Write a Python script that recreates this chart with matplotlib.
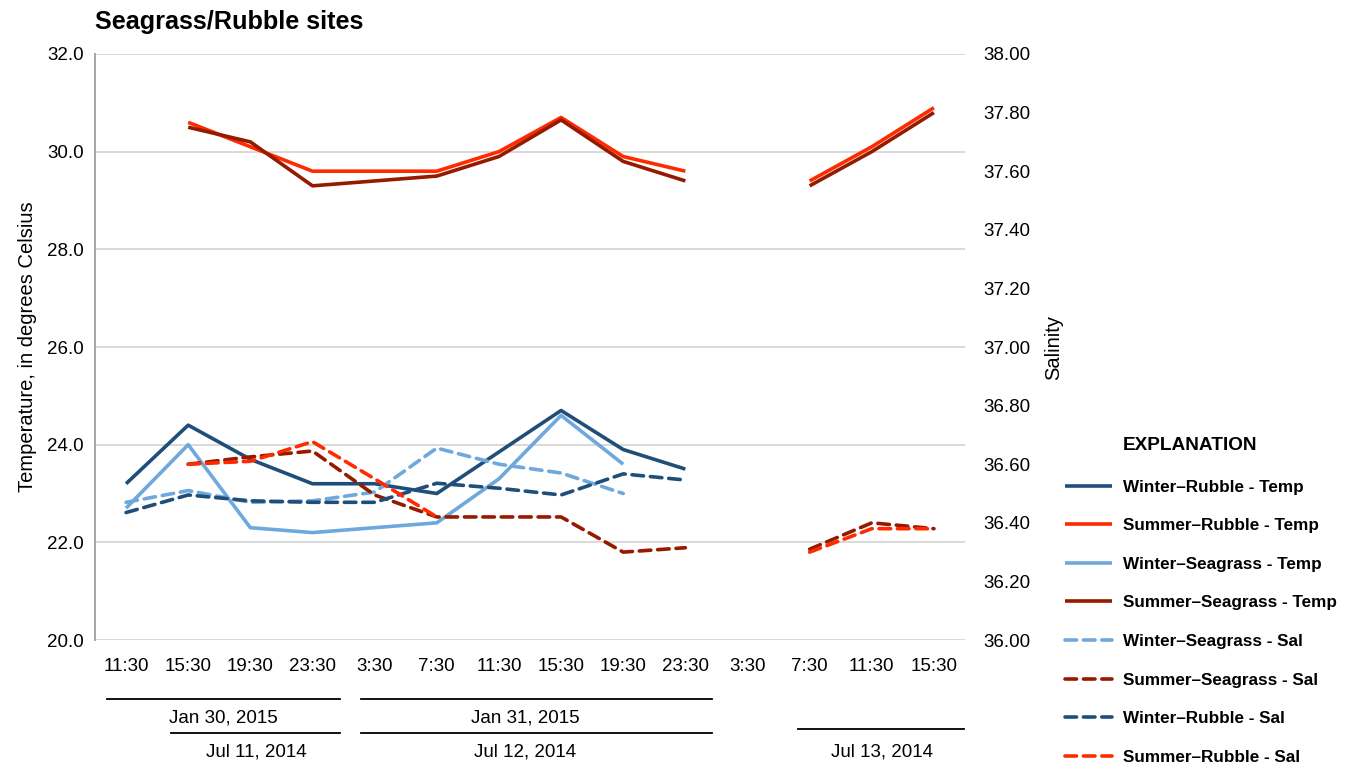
import matplotlib
matplotlib.use("Agg")
import matplotlib.pyplot as plt
import matplotlib.transforms as mtransforms
import numpy as np

plt.rcParams["font.family"] = ["Liberation Sans Narrow", "Liberation Sans", "DejaVu Sans"]

nan = np.nan

# Sampling times (two overlapping field campaigns share the hourly slots)
times = ["11:30", "15:30", "19:30", "23:30", "3:30", "7:30", "11:30",
         "15:30", "19:30", "23:30", "3:30", "7:30", "11:30", "15:30"]

# Temperature, degrees Celsius
winter_rubble_temp = [23.2, 24.4, 23.7, 23.2, 23.2, 23.0, 23.85, 24.7, 23.9, 23.5,
                      nan, nan, nan, nan]
summer_rubble_temp = [nan, 30.6, 30.1, 29.6, 29.6, 29.6, 30.0, 30.7, 29.9, 29.6,
                      nan, 29.4, 30.1, 30.9]
winter_seagrass_temp = [22.7, 24.0, 22.3, 22.2, 22.3, 22.4, 23.3, 24.6, 23.6, nan,
                        nan, nan, nan, nan]
summer_seagrass_temp = [nan, 30.5, 30.2, 29.3, 29.4, 29.5, 29.9, 30.65, 29.8, 29.4,
                        nan, 29.3, 30.0, 30.8]

# Salinity
winter_seagrass_sal = [36.47, 36.51, 36.47, 36.475, 36.505, 36.655, 36.60, 36.57,
                       36.50, nan, nan, nan, nan, nan]
summer_seagrass_sal = [nan, 36.60, 36.625, 36.645, 36.495, 36.42, 36.42, 36.42,
                       36.30, 36.315, nan, 36.31, 36.40, 36.38]
winter_rubble_sal = [36.435, 36.495, 36.475, 36.47, 36.47, 36.535, 36.518, 36.495,
                     36.567, 36.546, nan, nan, nan, nan]
summer_rubble_sal = [nan, 36.60, 36.61, 36.677, 36.55, 36.42, nan, nan,
                     nan, nan, nan, 36.30, 36.38, 36.38]

# Day brackets under the time axis: label, bracket start/end and label centre
# (in slot units)
winter_days = [("Jan 30, 2015", -0.30, 3.44, 1.56), ("Jan 31, 2015", 3.78, 9.43, 6.42)]
summer_days = [("Jul 11, 2014", 0.72, 3.44, 2.10), ("Jul 12, 2014", 3.78, 9.43, 6.42),
               ("Jul 13, 2014", 10.81, 13.49, 12.17)]

DARK_BLUE = "#1f4e79"
LIGHT_BLUE = "#6fa8dc"
RED = "#ff2a00"
DARK_RED = "#951a00"
TICK_SIZE = 13.5

fig = plt.figure(figsize=(13.51, 7.70), dpi=100)
ax = fig.add_axes([0.0703, 0.1688, 0.6440, 0.7611])
ax2 = ax.twinx()

x = np.arange(len(times))
lw = 2.6
dash = (3.2, 1.9)

temp_series = [
    (winter_rubble_temp, DARK_BLUE, "Winter\u2013Rubble - Temp"),
    (summer_rubble_temp, RED, "Summer\u2013Rubble - Temp"),
    (winter_seagrass_temp, LIGHT_BLUE, "Winter\u2013Seagrass - Temp"),
    (summer_seagrass_temp, DARK_RED, "Summer\u2013Seagrass - Temp"),
]
sal_series = [
    (winter_seagrass_sal, LIGHT_BLUE, "Winter\u2013Seagrass - Sal"),
    (summer_seagrass_sal, DARK_RED, "Summer\u2013Seagrass - Sal"),
    (winter_rubble_sal, DARK_BLUE, "Winter\u2013Rubble - Sal"),
    (summer_rubble_sal, RED, "Summer\u2013Rubble - Sal"),
]

handles = []
for values, color, label in temp_series:
    (h,) = ax.plot(x, values, color=color, lw=lw, label=label, solid_capstyle="butt")
    handles.append(h)
for values, color, label in sal_series:
    (h,) = ax2.plot(x, values, color=color, lw=lw, label=label,
                    linestyle=(0, dash), dash_capstyle="round")
    handles.append(h)

ax.set_xlim(-0.5, len(times) - 0.5)
ax.set_ylim(20, 32)
ax.set_yticks(np.arange(20, 32.1, 2))
ax.set_yticklabels([f"{v:.1f}" for v in np.arange(20, 32.1, 2)])
ax2.set_ylim(36, 38)
ax2.set_yticks(np.arange(36, 38.01, 0.2))
ax2.set_yticklabels([f"{v:.2f}" for v in np.arange(36, 38.01, 0.2)])
ax.set_xticks(x)
ax.set_xticklabels(times)

ax.grid(axis="y", color="#d9d9d9", lw=1.4)
ax.set_axisbelow(True)
for a in (ax, ax2):
    for side in ("top", "right", "bottom"):
        a.spines[side].set_visible(False)
ax2.spines["left"].set_visible(False)
ax.spines["left"].set_color("#a6a6a6")
ax.spines["left"].set_linewidth(1.4)

ax.tick_params(axis="both", length=0, labelsize=TICK_SIZE, colors="black")
ax.tick_params(axis="x", pad=13)
ax.tick_params(axis="y", pad=8)
ax2.tick_params(axis="y", length=0, labelsize=TICK_SIZE, pad=13)

ax.set_ylabel("Temperature, in degrees Celsius", fontsize=14.5, labelpad=7)
ax2.set_ylabel("Salinity", fontsize=14.5, labelpad=10)

fig.text(0.0703, 0.971, "Seagrass/Rubble sites", fontsize=18.2, fontweight="bold",
         ha="left", va="center")

# Day brackets below the time labels
trans = mtransforms.blended_transform_factory(ax.transData, fig.transFigure)
for rows, y_line, y_text in ((winter_days, 0.0922, 0.0675), (summer_days, 0.0481, 0.0234)):
    for label, lo, hi, mid in rows:
        yl = y_line if lo < 10 else y_line + 0.005
        ax.plot([lo, hi], [yl, yl], transform=trans, color="black", lw=1.3,
                clip_on=False)
        ax.text(mid, y_text, label, transform=trans, fontsize=TICK_SIZE,
                ha="center", va="center")

fig.text(0.8312, 0.422, "EXPLANATION", fontsize=13.7, fontweight="bold",
         ha="left", va="center")
leg = fig.legend(handles=handles, loc="upper left", bbox_to_anchor=(0.777, 0.397),
                 frameon=False, prop={"weight": "bold", "size": 12.3},
                 handlelength=2.75, handletextpad=0.64, labelspacing=1.38)

fig.savefig("out.png", dpi=100)
